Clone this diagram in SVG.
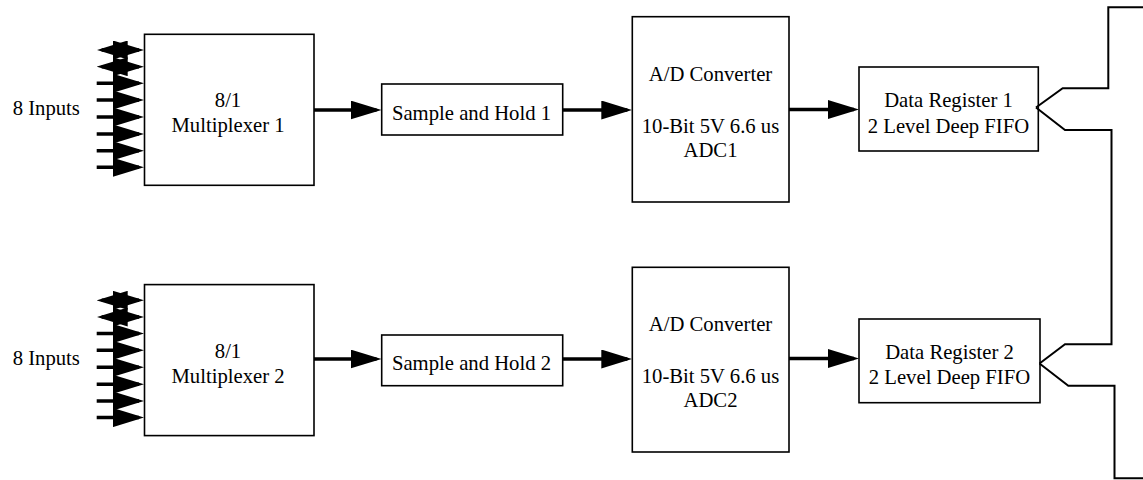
<svg xmlns="http://www.w3.org/2000/svg" width="1143" height="480" viewBox="0 0 1143 480">
<style>
.box{fill:#fff;stroke:#000;stroke-width:1.6}
.t{font-family:"Liberation Serif","Times New Roman",serif;font-size:20.7px;fill:#000;text-anchor:middle}
.ts{font-family:"Liberation Serif","Times New Roman",serif;font-size:20.7px;fill:#000}
.arr{fill:none;stroke:#000;stroke-width:3.5;marker-end:url(#ah)}
.bi{fill:none;stroke:#000;stroke-width:3.5;marker-start:url(#ah);marker-end:url(#ah)}
.wire{fill:none;stroke:#000;stroke-width:2;stroke-linejoin:miter}
</style>
<defs>
<marker id="ah" markerUnits="userSpaceOnUse" viewBox="0 0 31 19" refX="26" refY="9.5" markerWidth="31" markerHeight="19" orient="auto-start-reverse">
<path d="M0,0 L31,9.5 L0,19 Z" fill="#000"/>
</marker>
</defs>
<text class="ts" x="12.7" y="115">8 Inputs</text>
<text class="ts" x="12.7" y="365.3">8 Inputs</text>
<g id="mux1"><rect class="box" x="144.5" y="34.3" width="169.5" height="151"/><text class="t" x="228" y="107.3">8/1</text><text class="t" x="228" y="132.3">Multiplexer 1</text></g>
<g id="mux2"><rect class="box" x="144.5" y="284.6" width="169.5" height="151"/><text class="t" x="228" y="357.6">8/1</text><text class="t" x="228" y="382.6">Multiplexer 2</text></g>
<g id="sh1"><rect class="box" x="381.7" y="84" width="181" height="51"/><text class="t" x="471.5" y="119.5">Sample and Hold 1</text></g>
<g id="sh2"><rect class="box" x="381.7" y="335" width="181" height="50.7"/><text class="t" x="471.5" y="369.5">Sample and Hold 2</text></g>
<g id="adc1"><rect class="box" x="632.3" y="16.7" width="156.7" height="185.3"/><text class="t" x="710.5" y="81">A/D Converter</text><text class="t" x="710.5" y="132.7">10-Bit 5V 6.6 us</text><text class="t" x="710.5" y="156.7">ADC1</text></g>
<g id="adc2"><rect class="box" x="632.3" y="267.3" width="156.7" height="184.7"/><text class="t" x="710.5" y="331.3">A/D Converter</text><text class="t" x="710.5" y="383">10-Bit 5V 6.6 us</text><text class="t" x="710.5" y="407">ADC2</text></g>
<g id="dr1"><rect class="box" x="859" y="67" width="179.3" height="84"/><text class="t" x="948.5" y="107">Data Register 1</text><text class="t" x="948.5" y="132.5">2 Level Deep FIFO</text></g>
<g id="dr2"><rect class="box" x="859" y="319" width="181" height="83.7"/><text class="t" x="949.5" y="358.5">Data Register 2</text><text class="t" x="949.5" y="383.5">2 Level Deep FIFO</text></g>
<g id="connectors">
<path class="bi" d="M101.7,50 L139,50"/>
<path class="bi" d="M101.7,66.7 L139,66.7"/>
<path class="arr" d="M96.7,83.3 L139,83.3"/>
<path class="arr" d="M96.7,100 L139,100"/>
<path class="arr" d="M96.7,117 L139,117"/>
<path class="arr" d="M96.7,134 L139,134"/>
<path class="arr" d="M96.7,150.7 L139,150.7"/>
<path class="arr" d="M96.7,167.3 L139,167.3"/>
<path class="bi" d="M101.7,300.3 L139,300.3"/>
<path class="bi" d="M101.7,317 L139,317"/>
<path class="arr" d="M96.7,333.6 L139,333.6"/>
<path class="arr" d="M96.7,350.3 L139,350.3"/>
<path class="arr" d="M96.7,367.3 L139,367.3"/>
<path class="arr" d="M96.7,384.3 L139,384.3"/>
<path class="arr" d="M96.7,401 L139,401"/>
<path class="arr" d="M96.7,417.6 L139,417.6"/>
<path class="arr" d="M314,110 L376.5,110"/>
<path class="arr" d="M562.7,110 L627.3,110"/>
<path class="arr" d="M789,109.5 L854,109.5"/>
<path class="arr" d="M314,359 L376.5,359"/>
<path class="arr" d="M562.7,359 L627.3,359"/>
<path class="arr" d="M789,358.5 L854,358.5"/>
<path class="wire" d="M1036,107.5 L1062.7,88.3 L1108.3,88.3 L1108.3,7.3 L1143,7.3"/>
<path class="wire" d="M1036,107.5 L1065,130 L1111.5,130 L1111.5,344.3 L1065,344.3 L1039.5,363.5"/>
<path class="wire" d="M1039.5,363.5 L1068.3,385.7 L1114.5,385.7 L1114.5,478.3 L1143,478.3"/>
</g>
</svg>
